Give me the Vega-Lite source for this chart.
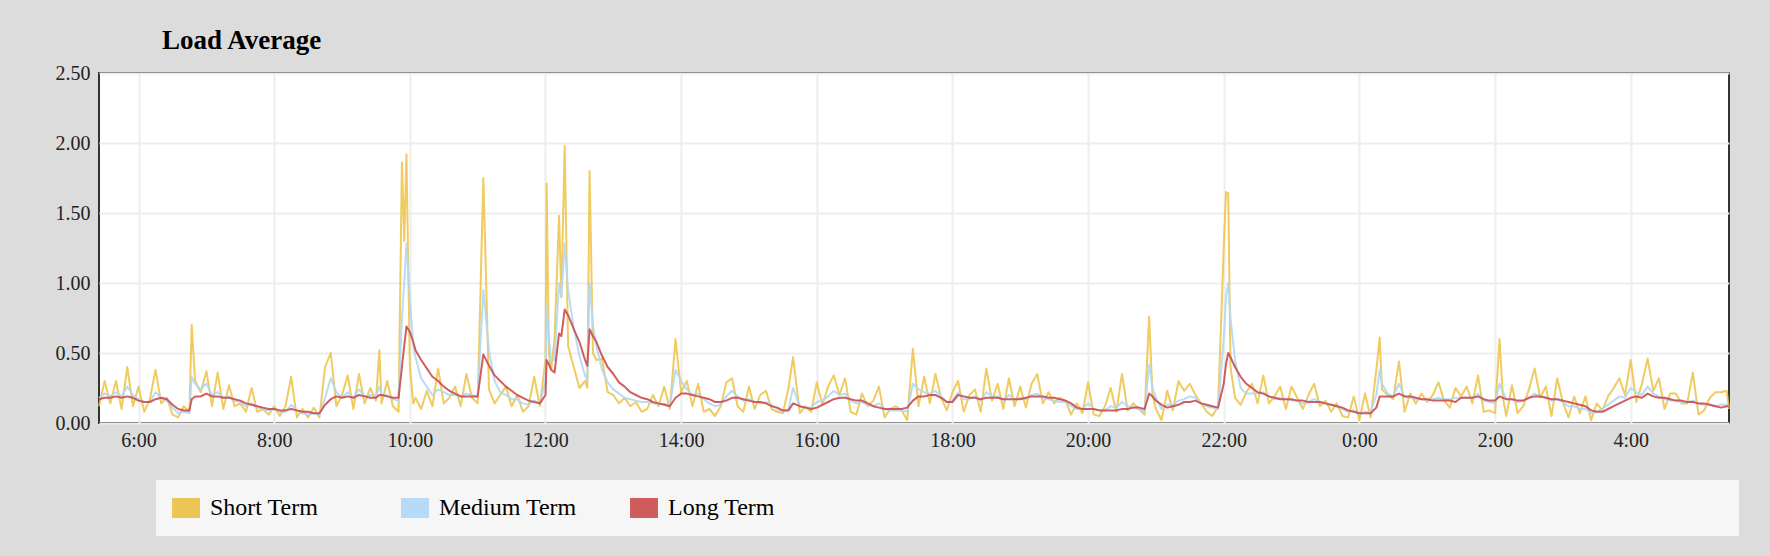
{
"$schema": "https://vega.github.io/schema/vega-lite/v6.json",
"width": 1630,
"height": 350,
"autosize": {"type": "none"},
"padding": {"left": 99, "top": 73, "right": 41, "bottom": 133},
"background": "#dcdcdc",
"config": {
  "font": "Liberation Serif",
  "view": {"fill": "#ffffff", "stroke": "#333333", "strokeWidth": 2}
},
"title": {"text": "Load Average", "anchor": "start", "frame": "group", "font": "Liberation Serif", "fontSize": 27, "fontWeight": "bold", "color": "#000000", "dx": 63, "dy": 28, "offset": 15, "baseline": "alphabetic"},
"data": {
  "values": [
{"t":"2024-01-01T05:25Z","s":0.12,"m":0.18,"l":0.17},
{"t":"2024-01-01T05:30Z","s":0.30,"m":0.21,"l":0.18},
{"t":"2024-01-01T05:35Z","s":0.14,"m":0.19,"l":0.18},
{"t":"2024-01-01T05:40Z","s":0.30,"m":0.22,"l":0.19},
{"t":"2024-01-01T05:45Z","s":0.10,"m":0.19,"l":0.18},
{"t":"2024-01-01T05:50Z","s":0.40,"m":0.26,"l":0.19},
{"t":"2024-01-01T05:55Z","s":0.12,"m":0.20,"l":0.18},
{"t":"2024-01-01T06:00Z","s":0.26,"m":0.17,"l":0.16},
{"t":"2024-01-01T06:05Z","s":0.08,"m":0.15,"l":0.15},
{"t":"2024-01-01T06:10Z","s":0.17,"m":0.15,"l":0.15},
{"t":"2024-01-01T06:15Z","s":0.38,"m":0.22,"l":0.17},
{"t":"2024-01-01T06:20Z","s":0.14,"m":0.18,"l":0.18},
{"t":"2024-01-01T06:25Z","s":0.18,"m":0.16,"l":0.17},
{"t":"2024-01-01T06:30Z","s":0.06,"m":0.11,"l":0.13},
{"t":"2024-01-01T06:35Z","s":0.04,"m":0.07,"l":0.10},
{"t":"2024-01-01T06:40Z","s":0.12,"m":0.08,"l":0.09},
{"t":"2024-01-01T06:45Z","s":0.08,"m":0.07,"l":0.09},
{"t":"2024-01-01T06:47Z","s":0.70,"m":0.33,"l":0.17},
{"t":"2024-01-01T06:50Z","s":0.30,"m":0.28,"l":0.19},
{"t":"2024-01-01T06:55Z","s":0.22,"m":0.24,"l":0.19},
{"t":"2024-01-01T07:00Z","s":0.37,"m":0.28,"l":0.21},
{"t":"2024-01-01T07:05Z","s":0.12,"m":0.20,"l":0.19},
{"t":"2024-01-01T07:10Z","s":0.36,"m":0.22,"l":0.19},
{"t":"2024-01-01T07:15Z","s":0.10,"m":0.18,"l":0.18},
{"t":"2024-01-01T07:20Z","s":0.27,"m":0.19,"l":0.18},
{"t":"2024-01-01T07:25Z","s":0.12,"m":0.16,"l":0.17},
{"t":"2024-01-01T07:30Z","s":0.14,"m":0.15,"l":0.16},
{"t":"2024-01-01T07:35Z","s":0.08,"m":0.12,"l":0.14},
{"t":"2024-01-01T07:40Z","s":0.25,"m":0.14,"l":0.13},
{"t":"2024-01-01T07:45Z","s":0.08,"m":0.11,"l":0.12},
{"t":"2024-01-01T07:50Z","s":0.10,"m":0.10,"l":0.11},
{"t":"2024-01-01T07:55Z","s":0.06,"m":0.09,"l":0.10},
{"t":"2024-01-01T08:00Z","s":0.12,"m":0.10,"l":0.10},
{"t":"2024-01-01T08:05Z","s":0.05,"m":0.08,"l":0.09},
{"t":"2024-01-01T08:10Z","s":0.12,"m":0.08,"l":0.09},
{"t":"2024-01-01T08:15Z","s":0.33,"m":0.13,"l":0.10},
{"t":"2024-01-01T08:20Z","s":0.04,"m":0.09,"l":0.09},
{"t":"2024-01-01T08:25Z","s":0.10,"m":0.07,"l":0.08},
{"t":"2024-01-01T08:30Z","s":0.04,"m":0.06,"l":0.08},
{"t":"2024-01-01T08:35Z","s":0.11,"m":0.07,"l":0.07},
{"t":"2024-01-01T08:40Z","s":0.04,"m":0.06,"l":0.07},
{"t":"2024-01-01T08:45Z","s":0.40,"m":0.18,"l":0.13},
{"t":"2024-01-01T08:50Z","s":0.50,"m":0.32,"l":0.17},
{"t":"2024-01-01T08:55Z","s":0.12,"m":0.22,"l":0.19},
{"t":"2024-01-01T09:00Z","s":0.20,"m":0.18,"l":0.18},
{"t":"2024-01-01T09:05Z","s":0.34,"m":0.22,"l":0.19},
{"t":"2024-01-01T09:10Z","s":0.10,"m":0.18,"l":0.18},
{"t":"2024-01-01T09:15Z","s":0.35,"m":0.24,"l":0.20},
{"t":"2024-01-01T09:20Z","s":0.14,"m":0.19,"l":0.19},
{"t":"2024-01-01T09:25Z","s":0.25,"m":0.20,"l":0.18},
{"t":"2024-01-01T09:30Z","s":0.16,"m":0.19,"l":0.18},
{"t":"2024-01-01T09:33Z","s":0.52,"m":0.26,"l":0.20},
{"t":"2024-01-01T09:35Z","s":0.14,"m":0.20,"l":0.20},
{"t":"2024-01-01T09:40Z","s":0.30,"m":0.20,"l":0.19},
{"t":"2024-01-01T09:45Z","s":0.12,"m":0.17,"l":0.18},
{"t":"2024-01-01T09:50Z","s":0.08,"m":0.16,"l":0.18},
{"t":"2024-01-01T09:53Z","s":1.86,"m":0.75,"l":0.40},
{"t":"2024-01-01T09:55Z","s":1.30,"m":1.00,"l":0.55},
{"t":"2024-01-01T09:57Z","s":1.92,"m":1.28,"l":0.69},
{"t":"2024-01-01T10:00Z","s":0.40,"m":0.90,"l":0.65},
{"t":"2024-01-01T10:03Z","s":0.14,"m":0.55,"l":0.58},
{"t":"2024-01-01T10:05Z","s":0.18,"m":0.47,"l":0.52},
{"t":"2024-01-01T10:10Z","s":0.10,"m":0.32,"l":0.45},
{"t":"2024-01-01T10:15Z","s":0.23,"m":0.26,"l":0.39},
{"t":"2024-01-01T10:20Z","s":0.12,"m":0.20,"l":0.33},
{"t":"2024-01-01T10:25Z","s":0.39,"m":0.24,"l":0.30},
{"t":"2024-01-01T10:30Z","s":0.14,"m":0.22,"l":0.26},
{"t":"2024-01-01T10:35Z","s":0.18,"m":0.20,"l":0.23},
{"t":"2024-01-01T10:40Z","s":0.26,"m":0.20,"l":0.21},
{"t":"2024-01-01T10:45Z","s":0.12,"m":0.19,"l":0.19},
{"t":"2024-01-01T10:50Z","s":0.35,"m":0.21,"l":0.19},
{"t":"2024-01-01T10:55Z","s":0.18,"m":0.20,"l":0.19},
{"t":"2024-01-01T11:00Z","s":0.14,"m":0.19,"l":0.19},
{"t":"2024-01-01T11:05Z","s":1.75,"m":0.95,"l":0.49},
{"t":"2024-01-01T11:10Z","s":0.24,"m":0.52,"l":0.41},
{"t":"2024-01-01T11:15Z","s":0.14,"m":0.30,"l":0.34},
{"t":"2024-01-01T11:20Z","s":0.20,"m":0.22,"l":0.30},
{"t":"2024-01-01T11:25Z","s":0.26,"m":0.20,"l":0.26},
{"t":"2024-01-01T11:30Z","s":0.12,"m":0.17,"l":0.23},
{"t":"2024-01-01T11:35Z","s":0.20,"m":0.17,"l":0.20},
{"t":"2024-01-01T11:40Z","s":0.08,"m":0.14,"l":0.18},
{"t":"2024-01-01T11:45Z","s":0.12,"m":0.13,"l":0.16},
{"t":"2024-01-01T11:50Z","s":0.33,"m":0.16,"l":0.15},
{"t":"2024-01-01T11:55Z","s":0.12,"m":0.14,"l":0.14},
{"t":"2024-01-01T12:00Z","s":0.45,"m":0.30,"l":0.20},
{"t":"2024-01-01T12:01Z","s":1.71,"m":0.84,"l":0.45},
{"t":"2024-01-01T12:03Z","s":0.50,"m":0.60,"l":0.42},
{"t":"2024-01-01T12:05Z","s":0.38,"m":0.45,"l":0.38},
{"t":"2024-01-01T12:08Z","s":0.60,"m":0.45,"l":0.36},
{"t":"2024-01-01T12:12Z","s":1.48,"m":1.00,"l":0.64},
{"t":"2024-01-01T12:14Z","s":0.90,"m":0.90,"l":0.62},
{"t":"2024-01-01T12:17Z","s":1.98,"m":1.28,"l":0.81},
{"t":"2024-01-01T12:20Z","s":0.55,"m":0.95,"l":0.77},
{"t":"2024-01-01T12:25Z","s":0.40,"m":0.68,"l":0.67},
{"t":"2024-01-01T12:30Z","s":0.25,"m":0.48,"l":0.58},
{"t":"2024-01-01T12:35Z","s":0.30,"m":0.34,"l":0.45},
{"t":"2024-01-01T12:37Z","s":0.25,"m":0.30,"l":0.41},
{"t":"2024-01-01T12:39Z","s":1.80,"m":1.00,"l":0.67},
{"t":"2024-01-01T12:42Z","s":0.50,"m":0.70,"l":0.62},
{"t":"2024-01-01T12:45Z","s":0.45,"m":0.55,"l":0.58},
{"t":"2024-01-01T12:50Z","s":0.46,"m":0.38,"l":0.48},
{"t":"2024-01-01T12:55Z","s":0.22,"m":0.29,"l":0.40},
{"t":"2024-01-01T13:00Z","s":0.20,"m":0.24,"l":0.35},
{"t":"2024-01-01T13:05Z","s":0.14,"m":0.21,"l":0.29},
{"t":"2024-01-01T13:10Z","s":0.18,"m":0.18,"l":0.26},
{"t":"2024-01-01T13:15Z","s":0.12,"m":0.17,"l":0.22},
{"t":"2024-01-01T13:20Z","s":0.15,"m":0.16,"l":0.20},
{"t":"2024-01-01T13:25Z","s":0.08,"m":0.15,"l":0.18},
{"t":"2024-01-01T13:30Z","s":0.10,"m":0.15,"l":0.17},
{"t":"2024-01-01T13:35Z","s":0.20,"m":0.14,"l":0.15},
{"t":"2024-01-01T13:40Z","s":0.12,"m":0.13,"l":0.14},
{"t":"2024-01-01T13:45Z","s":0.26,"m":0.14,"l":0.13},
{"t":"2024-01-01T13:50Z","s":0.10,"m":0.12,"l":0.12},
{"t":"2024-01-01T13:55Z","s":0.60,"m":0.38,"l":0.18},
{"t":"2024-01-01T14:00Z","s":0.22,"m":0.30,"l":0.21},
{"t":"2024-01-01T14:05Z","s":0.30,"m":0.24,"l":0.21},
{"t":"2024-01-01T14:10Z","s":0.12,"m":0.20,"l":0.20},
{"t":"2024-01-01T14:15Z","s":0.28,"m":0.21,"l":0.19},
{"t":"2024-01-01T14:20Z","s":0.08,"m":0.17,"l":0.18},
{"t":"2024-01-01T14:25Z","s":0.10,"m":0.14,"l":0.17},
{"t":"2024-01-01T14:30Z","s":0.05,"m":0.12,"l":0.15},
{"t":"2024-01-01T14:35Z","s":0.12,"m":0.13,"l":0.15},
{"t":"2024-01-01T14:40Z","s":0.29,"m":0.19,"l":0.16},
{"t":"2024-01-01T14:45Z","s":0.32,"m":0.23,"l":0.18},
{"t":"2024-01-01T14:50Z","s":0.12,"m":0.19,"l":0.18},
{"t":"2024-01-01T14:55Z","s":0.08,"m":0.16,"l":0.17},
{"t":"2024-01-01T15:00Z","s":0.26,"m":0.17,"l":0.16},
{"t":"2024-01-01T15:05Z","s":0.10,"m":0.15,"l":0.15},
{"t":"2024-01-01T15:10Z","s":0.20,"m":0.14,"l":0.15},
{"t":"2024-01-01T15:15Z","s":0.23,"m":0.15,"l":0.14},
{"t":"2024-01-01T15:20Z","s":0.10,"m":0.13,"l":0.12},
{"t":"2024-01-01T15:25Z","s":0.08,"m":0.10,"l":0.11},
{"t":"2024-01-01T15:30Z","s":0.07,"m":0.08,"l":0.09},
{"t":"2024-01-01T15:35Z","s":0.25,"m":0.10,"l":0.09},
{"t":"2024-01-01T15:39Z","s":0.47,"m":0.25,"l":0.14},
{"t":"2024-01-01T15:45Z","s":0.07,"m":0.12,"l":0.12},
{"t":"2024-01-01T15:50Z","s":0.12,"m":0.11,"l":0.11},
{"t":"2024-01-01T15:55Z","s":0.08,"m":0.11,"l":0.10},
{"t":"2024-01-01T16:00Z","s":0.29,"m":0.15,"l":0.11},
{"t":"2024-01-01T16:05Z","s":0.13,"m":0.16,"l":0.13},
{"t":"2024-01-01T16:10Z","s":0.26,"m":0.19,"l":0.15},
{"t":"2024-01-01T16:15Z","s":0.34,"m":0.23,"l":0.17},
{"t":"2024-01-01T16:20Z","s":0.20,"m":0.20,"l":0.18},
{"t":"2024-01-01T16:25Z","s":0.32,"m":0.21,"l":0.18},
{"t":"2024-01-01T16:30Z","s":0.08,"m":0.16,"l":0.17},
{"t":"2024-01-01T16:35Z","s":0.06,"m":0.14,"l":0.16},
{"t":"2024-01-01T16:40Z","s":0.21,"m":0.15,"l":0.16},
{"t":"2024-01-01T16:45Z","s":0.12,"m":0.13,"l":0.14},
{"t":"2024-01-01T16:50Z","s":0.16,"m":0.12,"l":0.12},
{"t":"2024-01-01T16:55Z","s":0.26,"m":0.14,"l":0.11},
{"t":"2024-01-01T17:00Z","s":0.04,"m":0.10,"l":0.10},
{"t":"2024-01-01T17:05Z","s":0.10,"m":0.09,"l":0.10},
{"t":"2024-01-01T17:10Z","s":0.12,"m":0.09,"l":0.10},
{"t":"2024-01-01T17:15Z","s":0.09,"m":0.09,"l":0.10},
{"t":"2024-01-01T17:20Z","s":0.02,"m":0.08,"l":0.11},
{"t":"2024-01-01T17:25Z","s":0.53,"m":0.28,"l":0.16},
{"t":"2024-01-01T17:30Z","s":0.12,"m":0.24,"l":0.19},
{"t":"2024-01-01T17:35Z","s":0.33,"m":0.22,"l":0.19},
{"t":"2024-01-01T17:40Z","s":0.14,"m":0.21,"l":0.20},
{"t":"2024-01-01T17:45Z","s":0.35,"m":0.23,"l":0.20},
{"t":"2024-01-01T17:50Z","s":0.18,"m":0.19,"l":0.18},
{"t":"2024-01-01T17:55Z","s":0.09,"m":0.15,"l":0.15},
{"t":"2024-01-01T18:00Z","s":0.22,"m":0.16,"l":0.15},
{"t":"2024-01-01T18:05Z","s":0.30,"m":0.22,"l":0.20},
{"t":"2024-01-01T18:10Z","s":0.08,"m":0.17,"l":0.19},
{"t":"2024-01-01T18:15Z","s":0.20,"m":0.17,"l":0.18},
{"t":"2024-01-01T18:20Z","s":0.24,"m":0.19,"l":0.18},
{"t":"2024-01-01T18:25Z","s":0.08,"m":0.16,"l":0.17},
{"t":"2024-01-01T18:30Z","s":0.39,"m":0.22,"l":0.18},
{"t":"2024-01-01T18:35Z","s":0.16,"m":0.19,"l":0.18},
{"t":"2024-01-01T18:40Z","s":0.28,"m":0.19,"l":0.18},
{"t":"2024-01-01T18:45Z","s":0.10,"m":0.16,"l":0.17},
{"t":"2024-01-01T18:50Z","s":0.32,"m":0.20,"l":0.17},
{"t":"2024-01-01T18:55Z","s":0.12,"m":0.17,"l":0.17},
{"t":"2024-01-01T19:00Z","s":0.26,"m":0.18,"l":0.17},
{"t":"2024-01-01T19:05Z","s":0.11,"m":0.17,"l":0.18},
{"t":"2024-01-01T19:10Z","s":0.28,"m":0.20,"l":0.19},
{"t":"2024-01-01T19:15Z","s":0.35,"m":0.21,"l":0.19},
{"t":"2024-01-01T19:20Z","s":0.14,"m":0.18,"l":0.19},
{"t":"2024-01-01T19:25Z","s":0.22,"m":0.17,"l":0.18},
{"t":"2024-01-01T19:30Z","s":0.14,"m":0.16,"l":0.18},
{"t":"2024-01-01T19:35Z","s":0.18,"m":0.15,"l":0.17},
{"t":"2024-01-01T19:40Z","s":0.16,"m":0.15,"l":0.16},
{"t":"2024-01-01T19:45Z","s":0.06,"m":0.12,"l":0.14},
{"t":"2024-01-01T19:50Z","s":0.14,"m":0.10,"l":0.11},
{"t":"2024-01-01T19:55Z","s":0.07,"m":0.10,"l":0.10},
{"t":"2024-01-01T20:00Z","s":0.29,"m":0.14,"l":0.10},
{"t":"2024-01-01T20:05Z","s":0.06,"m":0.10,"l":0.10},
{"t":"2024-01-01T20:10Z","s":0.05,"m":0.09,"l":0.09},
{"t":"2024-01-01T20:15Z","s":0.12,"m":0.09,"l":0.09},
{"t":"2024-01-01T20:20Z","s":0.25,"m":0.12,"l":0.09},
{"t":"2024-01-01T20:25Z","s":0.08,"m":0.11,"l":0.09},
{"t":"2024-01-01T20:30Z","s":0.35,"m":0.15,"l":0.10},
{"t":"2024-01-01T20:35Z","s":0.09,"m":0.12,"l":0.10},
{"t":"2024-01-01T20:40Z","s":0.14,"m":0.11,"l":0.11},
{"t":"2024-01-01T20:45Z","s":0.10,"m":0.10,"l":0.11},
{"t":"2024-01-01T20:50Z","s":0.06,"m":0.08,"l":0.10},
{"t":"2024-01-01T20:54Z","s":0.76,"m":0.42,"l":0.21},
{"t":"2024-01-01T20:57Z","s":0.20,"m":0.25,"l":0.19},
{"t":"2024-01-01T21:00Z","s":0.10,"m":0.18,"l":0.16},
{"t":"2024-01-01T21:05Z","s":0.02,"m":0.10,"l":0.13},
{"t":"2024-01-01T21:10Z","s":0.23,"m":0.13,"l":0.11},
{"t":"2024-01-01T21:15Z","s":0.09,"m":0.13,"l":0.12},
{"t":"2024-01-01T21:20Z","s":0.30,"m":0.16,"l":0.13},
{"t":"2024-01-01T21:25Z","s":0.23,"m":0.17,"l":0.15},
{"t":"2024-01-01T21:30Z","s":0.28,"m":0.19,"l":0.15},
{"t":"2024-01-01T21:35Z","s":0.20,"m":0.18,"l":0.16},
{"t":"2024-01-01T21:40Z","s":0.14,"m":0.14,"l":0.14},
{"t":"2024-01-01T21:45Z","s":0.08,"m":0.12,"l":0.13},
{"t":"2024-01-01T21:50Z","s":0.05,"m":0.11,"l":0.12},
{"t":"2024-01-01T21:55Z","s":0.12,"m":0.10,"l":0.11},
{"t":"2024-01-01T22:00Z","s":1.25,"m":0.60,"l":0.28},
{"t":"2024-01-01T22:02Z","s":1.65,"m":0.90,"l":0.42},
{"t":"2024-01-01T22:04Z","s":1.64,"m":1.00,"l":0.50},
{"t":"2024-01-01T22:06Z","s":0.40,"m":0.75,"l":0.47},
{"t":"2024-01-01T22:10Z","s":0.18,"m":0.45,"l":0.40},
{"t":"2024-01-01T22:15Z","s":0.13,"m":0.25,"l":0.33},
{"t":"2024-01-01T22:20Z","s":0.22,"m":0.21,"l":0.28},
{"t":"2024-01-01T22:25Z","s":0.28,"m":0.21,"l":0.25},
{"t":"2024-01-01T22:30Z","s":0.14,"m":0.21,"l":0.22},
{"t":"2024-01-01T22:35Z","s":0.34,"m":0.22,"l":0.21},
{"t":"2024-01-01T22:40Z","s":0.14,"m":0.19,"l":0.19},
{"t":"2024-01-01T22:45Z","s":0.19,"m":0.17,"l":0.18},
{"t":"2024-01-01T22:50Z","s":0.26,"m":0.18,"l":0.17},
{"t":"2024-01-01T22:55Z","s":0.10,"m":0.17,"l":0.17},
{"t":"2024-01-01T23:00Z","s":0.26,"m":0.16,"l":0.17},
{"t":"2024-01-01T23:05Z","s":0.18,"m":0.16,"l":0.16},
{"t":"2024-01-01T23:10Z","s":0.10,"m":0.14,"l":0.16},
{"t":"2024-01-01T23:15Z","s":0.20,"m":0.15,"l":0.15},
{"t":"2024-01-01T23:20Z","s":0.28,"m":0.17,"l":0.15},
{"t":"2024-01-01T23:25Z","s":0.12,"m":0.15,"l":0.15},
{"t":"2024-01-01T23:30Z","s":0.16,"m":0.14,"l":0.14},
{"t":"2024-01-01T23:35Z","s":0.08,"m":0.13,"l":0.13},
{"t":"2024-01-01T23:40Z","s":0.14,"m":0.12,"l":0.12},
{"t":"2024-01-01T23:45Z","s":0.05,"m":0.10,"l":0.11},
{"t":"2024-01-01T23:50Z","s":0.04,"m":0.08,"l":0.09},
{"t":"2024-01-01T23:55Z","s":0.19,"m":0.09,"l":0.08},
{"t":"2024-01-02T00:00Z","s":0.02,"m":0.06,"l":0.07},
{"t":"2024-01-02T00:05Z","s":0.21,"m":0.08,"l":0.07},
{"t":"2024-01-02T00:10Z","s":0.04,"m":0.08,"l":0.07},
{"t":"2024-01-02T00:15Z","s":0.38,"m":0.20,"l":0.11},
{"t":"2024-01-02T00:18Z","s":0.61,"m":0.38,"l":0.19},
{"t":"2024-01-02T00:20Z","s":0.24,"m":0.28,"l":0.19},
{"t":"2024-01-02T00:25Z","s":0.20,"m":0.21,"l":0.19},
{"t":"2024-01-02T00:30Z","s":0.17,"m":0.19,"l":0.19},
{"t":"2024-01-02T00:35Z","s":0.44,"m":0.28,"l":0.21},
{"t":"2024-01-02T00:40Z","s":0.08,"m":0.19,"l":0.19},
{"t":"2024-01-02T00:45Z","s":0.21,"m":0.18,"l":0.19},
{"t":"2024-01-02T00:50Z","s":0.14,"m":0.17,"l":0.18},
{"t":"2024-01-02T00:55Z","s":0.21,"m":0.17,"l":0.17},
{"t":"2024-01-02T01:00Z","s":0.15,"m":0.16,"l":0.17},
{"t":"2024-01-02T01:05Z","s":0.20,"m":0.17,"l":0.16},
{"t":"2024-01-02T01:10Z","s":0.29,"m":0.18,"l":0.16},
{"t":"2024-01-02T01:15Z","s":0.16,"m":0.17,"l":0.16},
{"t":"2024-01-02T01:20Z","s":0.11,"m":0.17,"l":0.16},
{"t":"2024-01-02T01:25Z","s":0.25,"m":0.18,"l":0.15},
{"t":"2024-01-02T01:30Z","s":0.19,"m":0.18,"l":0.18},
{"t":"2024-01-02T01:35Z","s":0.26,"m":0.18,"l":0.18},
{"t":"2024-01-02T01:40Z","s":0.14,"m":0.18,"l":0.18},
{"t":"2024-01-02T01:45Z","s":0.34,"m":0.21,"l":0.19},
{"t":"2024-01-02T01:50Z","s":0.08,"m":0.16,"l":0.17},
{"t":"2024-01-02T01:55Z","s":0.09,"m":0.15,"l":0.16},
{"t":"2024-01-02T02:00Z","s":0.07,"m":0.14,"l":0.16},
{"t":"2024-01-02T02:04Z","s":0.60,"m":0.28,"l":0.19},
{"t":"2024-01-02T02:07Z","s":0.18,"m":0.22,"l":0.18},
{"t":"2024-01-02T02:10Z","s":0.05,"m":0.17,"l":0.17},
{"t":"2024-01-02T02:15Z","s":0.27,"m":0.17,"l":0.17},
{"t":"2024-01-02T02:20Z","s":0.07,"m":0.15,"l":0.16},
{"t":"2024-01-02T02:25Z","s":0.12,"m":0.16,"l":0.16},
{"t":"2024-01-02T02:30Z","s":0.24,"m":0.18,"l":0.18},
{"t":"2024-01-02T02:35Z","s":0.39,"m":0.21,"l":0.19},
{"t":"2024-01-02T02:40Z","s":0.18,"m":0.19,"l":0.19},
{"t":"2024-01-02T02:45Z","s":0.26,"m":0.18,"l":0.18},
{"t":"2024-01-02T02:50Z","s":0.05,"m":0.16,"l":0.17},
{"t":"2024-01-02T02:55Z","s":0.32,"m":0.17,"l":0.17},
{"t":"2024-01-02T03:00Z","s":0.15,"m":0.15,"l":0.16},
{"t":"2024-01-02T03:05Z","s":0.04,"m":0.12,"l":0.15},
{"t":"2024-01-02T03:10Z","s":0.19,"m":0.12,"l":0.14},
{"t":"2024-01-02T03:15Z","s":0.07,"m":0.10,"l":0.13},
{"t":"2024-01-02T03:20Z","s":0.19,"m":0.10,"l":0.12},
{"t":"2024-01-02T03:25Z","s":0.02,"m":0.07,"l":0.09},
{"t":"2024-01-02T03:30Z","s":0.14,"m":0.08,"l":0.08},
{"t":"2024-01-02T03:35Z","s":0.09,"m":0.10,"l":0.08},
{"t":"2024-01-02T03:40Z","s":0.19,"m":0.13,"l":0.10},
{"t":"2024-01-02T03:45Z","s":0.25,"m":0.16,"l":0.12},
{"t":"2024-01-02T03:50Z","s":0.32,"m":0.19,"l":0.14},
{"t":"2024-01-02T03:55Z","s":0.20,"m":0.18,"l":0.16},
{"t":"2024-01-02T04:00Z","s":0.45,"m":0.25,"l":0.18},
{"t":"2024-01-02T04:05Z","s":0.15,"m":0.22,"l":0.19},
{"t":"2024-01-02T04:10Z","s":0.28,"m":0.20,"l":0.18},
{"t":"2024-01-02T04:15Z","s":0.46,"m":0.26,"l":0.21},
{"t":"2024-01-02T04:20Z","s":0.23,"m":0.21,"l":0.19},
{"t":"2024-01-02T04:25Z","s":0.32,"m":0.19,"l":0.18},
{"t":"2024-01-02T04:30Z","s":0.10,"m":0.17,"l":0.18},
{"t":"2024-01-02T04:35Z","s":0.21,"m":0.16,"l":0.17},
{"t":"2024-01-02T04:40Z","s":0.21,"m":0.16,"l":0.16},
{"t":"2024-01-02T04:45Z","s":0.14,"m":0.15,"l":0.16},
{"t":"2024-01-02T04:50Z","s":0.14,"m":0.15,"l":0.15},
{"t":"2024-01-02T04:55Z","s":0.36,"m":0.16,"l":0.15},
{"t":"2024-01-02T05:00Z","s":0.06,"m":0.14,"l":0.14},
{"t":"2024-01-02T05:05Z","s":0.09,"m":0.13,"l":0.14},
{"t":"2024-01-02T05:10Z","s":0.18,"m":0.13,"l":0.13},
{"t":"2024-01-02T05:15Z","s":0.22,"m":0.12,"l":0.12},
{"t":"2024-01-02T05:20Z","s":0.22,"m":0.13,"l":0.11},
{"t":"2024-01-02T05:25Z","s":0.23,"m":0.13,"l":0.12},
{"t":"2024-01-02T05:27Z","s":0.10,"m":0.12,"l":0.12}
  ]
},
"encoding": {
  "x": {
    "field": "t", "type": "temporal", "title": null,
    "scale": {"type": "utc", "nice": false},
    "axis": {"values": [
      {"year": 2024, "month": 1, "date": 1, "hours": 6, "utc": true},
      {"year": 2024, "month": 1, "date": 1, "hours": 8, "utc": true},
      {"year": 2024, "month": 1, "date": 1, "hours": 10, "utc": true},
      {"year": 2024, "month": 1, "date": 1, "hours": 12, "utc": true},
      {"year": 2024, "month": 1, "date": 1, "hours": 14, "utc": true},
      {"year": 2024, "month": 1, "date": 1, "hours": 16, "utc": true},
      {"year": 2024, "month": 1, "date": 1, "hours": 18, "utc": true},
      {"year": 2024, "month": 1, "date": 1, "hours": 20, "utc": true},
      {"year": 2024, "month": 1, "date": 1, "hours": 22, "utc": true},
      {"year": 2024, "month": 1, "date": 2, "hours": 0, "utc": true},
      {"year": 2024, "month": 1, "date": 2, "hours": 2, "utc": true},
      {"year": 2024, "month": 1, "date": 2, "hours": 4, "utc": true}],
      "format": "%-H:%M", "labelFont": "Liberation Serif", "labelFontSize": 20, "labelColor": "#222222", "labelPadding": 7, "labelFlush": false, "labelOverlap": false, "ticks": false, "domain": false, "grid": true, "gridColor": "#ededed", "gridWidth": 2}
  }
},
"layer": [
  {
    "mark": {"type": "line", "strokeWidth": 2, "opacity": 0.85, "strokeJoin": "round"},
    "encoding": {
      "y": {"field": "s", "type": "quantitative", "title": null,
        "scale": {"domain": [0, 2.5], "nice": false, "zero": true},
        "axis": {"values": [0, 0.5, 1, 1.5, 2, 2.5], "format": ".2f", "labelFont": "Liberation Serif", "labelFontSize": 20, "labelColor": "#222222", "labelPadding": 9, "ticks": false, "domain": false, "grid": true, "gridColor": "#ededed", "gridWidth": 2}},
      "color": {"datum": "Short Term", "type": "nominal",
        "scale": {"domain": ["Short Term", "Medium Term", "Long Term"], "range": ["#ecc244", "#b0d8f6", "#cc4c4c"]},
        "legend": {
          "orient": "none", "legendX": 57, "legendY": 407, "direction": "horizontal", "columns": 3, "gridAlign": "all", "columnPadding": 53,
          "fillColor": "#f6f6f6", "padding": 16,
          "title": "\u2800\u2003\u2003\u2003\u2003\u2003\u2003\u2003\u2003\u2003\u2003\u2003\u2003\u2003\u2003\u2003\u2003\u2003\u2003\u2003\u2003\u2003\u2003\u2003\u2003\u2003\u2003\u2003\u2003\u2003\u2003\u2003\u2003\u2003\u2003\u2003\u2003\u2003\u2003\u2800",
          "titleOrient": "right", "titleFont": "Liberation Serif", "titleFontSize": 24, "titlePadding": 0, "titleColor": "#f6f6f6", "titleLimit": 2000,
          "symbolType": "M-1.2,-1H1.6V1H-1.2Z", "symbolSize": 400, "symbolStrokeWidth": 0, "symbolOpacity": 1,
          "symbolFillColor": {"expr": "scale('color', datum.value)"},
          "labelFont": "Liberation Serif", "labelFontSize": 24, "labelColor": "#000000", "labelOffset": 14, "labelLimit": 400
        }}
    }
  },
  {
    "mark": {"type": "line", "strokeWidth": 2, "opacity": 0.9, "strokeJoin": "round"},
    "encoding": {
      "y": {"field": "m", "type": "quantitative", "title": null},
      "color": {"datum": "Medium Term", "type": "nominal"}
    }
  },
  {
    "mark": {"type": "line", "strokeWidth": 2, "opacity": 0.9, "strokeJoin": "round"},
    "encoding": {
      "y": {"field": "l", "type": "quantitative", "title": null},
      "color": {"datum": "Long Term", "type": "nominal"}
    }
  }
]
}
